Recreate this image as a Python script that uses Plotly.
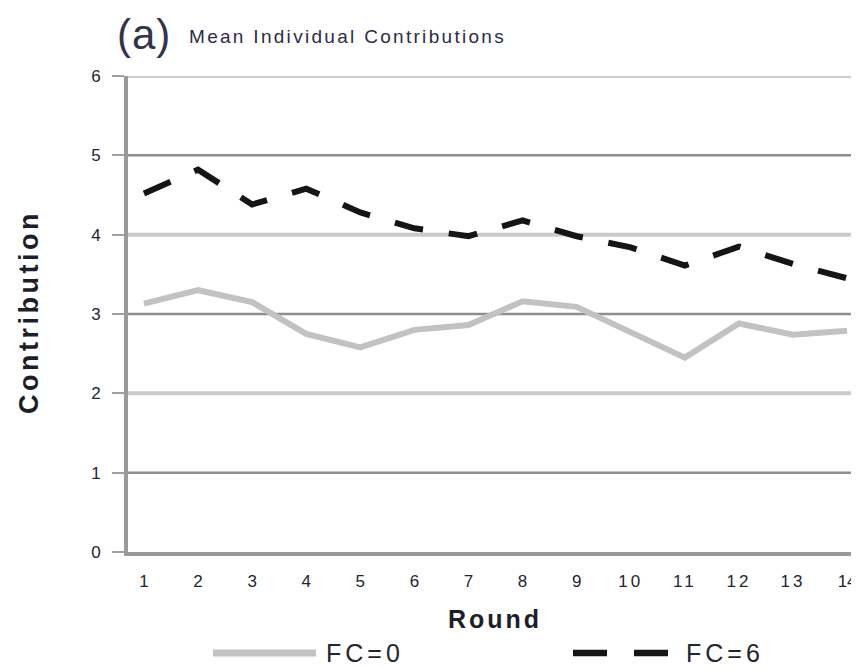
import plotly.graph_objects as go

rounds = list(range(1, 15))
fc0 = [3.13, 3.30, 3.15, 2.75, 2.58, 2.80, 2.86, 3.16, 3.09, 2.78, 2.45, 2.88, 2.74, 2.79]
fc6 = [4.52, 4.82, 4.38, 4.58, 4.28, 4.08, 3.98, 4.18, 3.98, 3.84, 3.61, 3.85, 3.63, 3.45]
series_names = ["FC=0", "FC=6"]
y_ticks = [0, 1, 2, 3, 4, 5, 6]

OFF = 8  # page body margin
W, H = 859 - OFF, 667 - OFF
L, R, T, B = 120, 0, 68, 115
PW, PH = W - L - R, H - T - B
FONT = "Liberation Sans, Arial, sans-serif"
TXT = "#24242f"

def px_x(p):
    return (p - OFF - L) / PW

def px_y(p):
    return (H - B - (p - OFF)) / PH

def spaced(s, sp):
    return f"<span style='letter-spacing:{sp}px'>{s}</span>"

fig = go.Figure()
fig.add_trace(go.Scatter(x=rounds, y=fc0, mode="lines", name=series_names[0],
                         line=dict(color="#c2c2c4", width=6), showlegend=False))
fig.add_trace(go.Scatter(x=rounds, y=fc6, mode="lines", name=series_names[1],
                         line=dict(color="#151515", width=6, dash="29px,26px"), showlegend=False))

shapes = []
for v in y_ticks[1:]:
    if v % 2 == 1:
        shapes.append(dict(type="line", xref="paper", yref="y", x0=0, x1=1, y0=v, y1=v,
                           line=dict(color="#8e8e92", width=2.5), layer="between"))
    else:
        shapes.append(dict(type="line", xref="paper", yref="y", x0=0, x1=1, y0=v, y1=v,
                           line=dict(color="#cbcbcd", width=4), layer="between"))
ly = px_y(653)
shapes.append(dict(type="line", xref="paper", yref="paper", x0=px_x(213), x1=px_x(316), y0=ly, y1=ly,
                   line=dict(color="#c2c2c4", width=7)))
shapes.append(dict(type="line", xref="paper", yref="paper", x0=px_x(573), x1=px_x(668), y0=ly, y1=ly,
                   line=dict(color="#151515", width=6.5, dash="34px,27px")))

annotations = [
    dict(xref="paper", yref="paper", x=px_x(324), y=ly, xanchor="left", yanchor="middle",
         text=spaced(series_names[0], 4), showarrow=False, font=dict(family=FONT, size=25, color=TXT)),
    dict(xref="paper", yref="paper", x=px_x(684), y=ly, xanchor="left", yanchor="middle",
         text=spaced(series_names[1], 4), showarrow=False, font=dict(family=FONT, size=25, color=TXT)),
    dict(xref="paper", yref="paper", x=px_x(446), y=px_y(619), xanchor="left", yanchor="middle",
         text="<b>" + spaced("Round", 3) + "</b>", showarrow=False,
         font=dict(family=FONT, size=25, color="#1e1e2a")),
    dict(xref="paper", yref="paper", x=px_x(29), y=px_y(312), xanchor="center", yanchor="middle",
         text="<b>" + spaced("Contribution", 3.5) + "</b>", textangle=-90, showarrow=False,
         font=dict(family=FONT, size=27, color="#1e1e2a")),
    dict(xref="paper", yref="paper", x=px_x(115), y=px_y(34), xanchor="left", yanchor="middle",
         text=spaced("(a)", 1), showarrow=False, font=dict(family=FONT, size=42, color="#33334a")),
    dict(xref="paper", yref="paper", x=px_x(187), y=px_y(36), xanchor="left", yanchor="middle",
         text=spaced("Mean Individual Contributions", 2.3), showarrow=False,
         font=dict(family=FONT, size=19, color="#2c2c45")),
]

xt = [spaced(str(r), 3) if 10 <= r < 14 else str(r) for r in rounds]

fig.update_layout(
    width=W, height=H,
    margin=dict(l=L, r=R, t=T, b=B, pad=0),
    paper_bgcolor="white", plot_bgcolor="white",
    showlegend=False,
    shapes=shapes, annotations=annotations,
    font=dict(family=FONT, color=TXT),
    xaxis=dict(range=[0.705, 14.22], tickvals=rounds, ticktext=xt, ticklabeloverflow="allow",
               showgrid=False, zeroline=False, showline=True, linecolor="#9a9a9e", linewidth=4,
               ticks="", ticklabelstandoff=11, tickfont=dict(family=FONT, size=17, color=TXT),
               fixedrange=True),
    yaxis=dict(range=[0, 6], tickvals=y_ticks, showgrid=False, zeroline=False,
               showline=True, linecolor="#9a9a9e", linewidth=4,
               ticks="outside", ticklen=12, tickwidth=2, tickcolor="#a0a0a4",
               ticklabelstandoff=8, tickfont=dict(family=FONT, size=17, color=TXT),
               fixedrange=True),
)

fig.write_html("out.html")
